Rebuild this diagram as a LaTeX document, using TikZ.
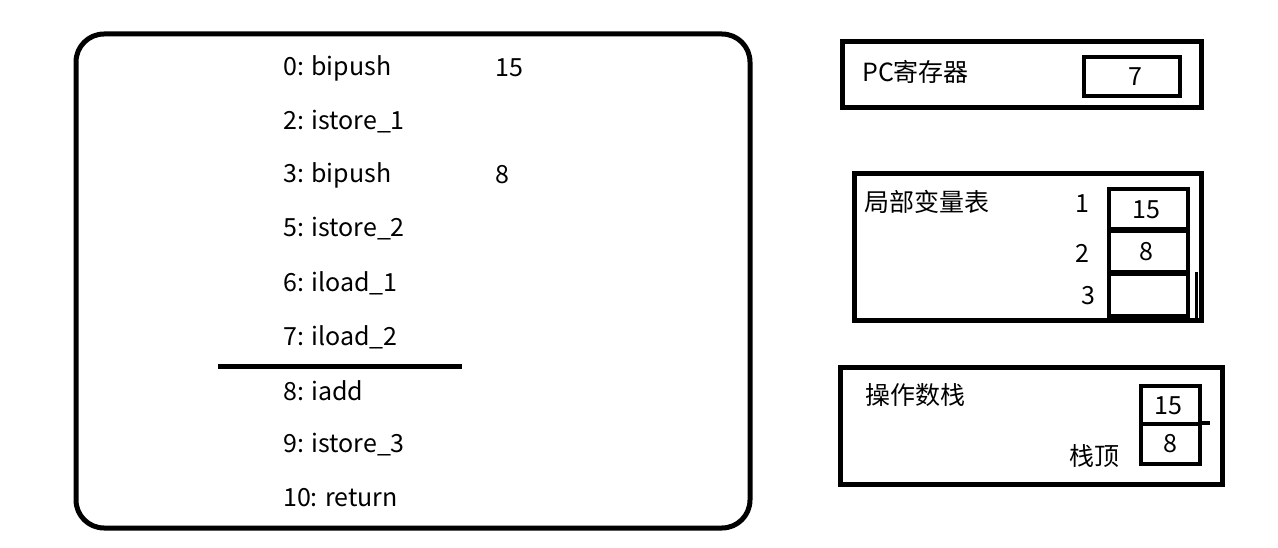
\documentclass[tikz,border=0pt]{standalone}
\usepackage{fontspec}
\setmainfont{Noto Sans CJK SC}
\begin{document}
\begin{tikzpicture}[x=1pt,y=-1pt,
  box/.style={draw=black,line width=5pt},
  ibox/.style={draw=black,line width=4pt},
  t/.style={anchor=west,inner sep=0pt,font=\fontsize{25}{28}\selectfont},
  tc/.style={inner sep=0pt,font=\fontsize{25}{28}\selectfont}]
\useasboundingbox (0,0) rectangle (1278,548);
\draw[box,rounded corners=28pt] (76,34) rectangle (750,528);
\foreach \n/\s/\y in {a/0: bipush/68,b/2: istore\_1/122,c/3: bipush/175,d/5: istore\_2/229,e/6: iload\_1/283,f/7: iload\_2/337,g/8: iadd/391,h/9: istore\_3/445,i/10: return/498}
  \node[t] (\n) at (283,\y) {\s};
\node[t] (v1) at (495,68) {15};
\node[t] (v2) at (495,175) {8};
\coordinate (la) at (218,366); \coordinate (lb) at (462,366);
\draw[line width=5pt] (la) -- (lb);
% PC
\draw[box] (842,42) rectangle (1201,108);
\node[t] (pc) at (862,72) {PC寄存器};
\draw[ibox] (1084,57) rectangle (1180,96);
\node[tc] (pcv) at (1135,77) {7};
% locals
\draw[box] (854,174) rectangle (1201,321);
\node[t] (lv) at (864,202) {局部变量表};
\node[tc] (n1) at (1082,204) {1};
\node[tc] (n2) at (1082,253) {2};
\node[tc] (n3) at (1088,296) {3};
\draw[ibox] (1109,189) rectangle (1188,229);
\node[tc] (l1) at (1146,210) {15};
\draw[ibox] (1109,231) rectangle (1188,272);
\node[tc] (l2) at (1146,252) {8};
\draw[ibox] (1109,274) rectangle (1188,316);
\draw[line width=3pt] (1196,272) -- (1196,318);
% operand stack
\draw[box] (840,367) rectangle (1222,484);
\node[t] (os) at (865,395) {操作数栈};
\draw[ibox] (1141,386) rectangle (1200,424);
\node[tc] (s1) at (1168,406) {15};
\draw[ibox] (1141,424) rectangle (1200,464);
\node[tc] (s2) at (1170,444) {8};
\draw[line width=4pt] (1200,423) -- (1210,423);
\node[tc] (top) at (1094,456) {栈顶};
\end{tikzpicture}
\end{document}
